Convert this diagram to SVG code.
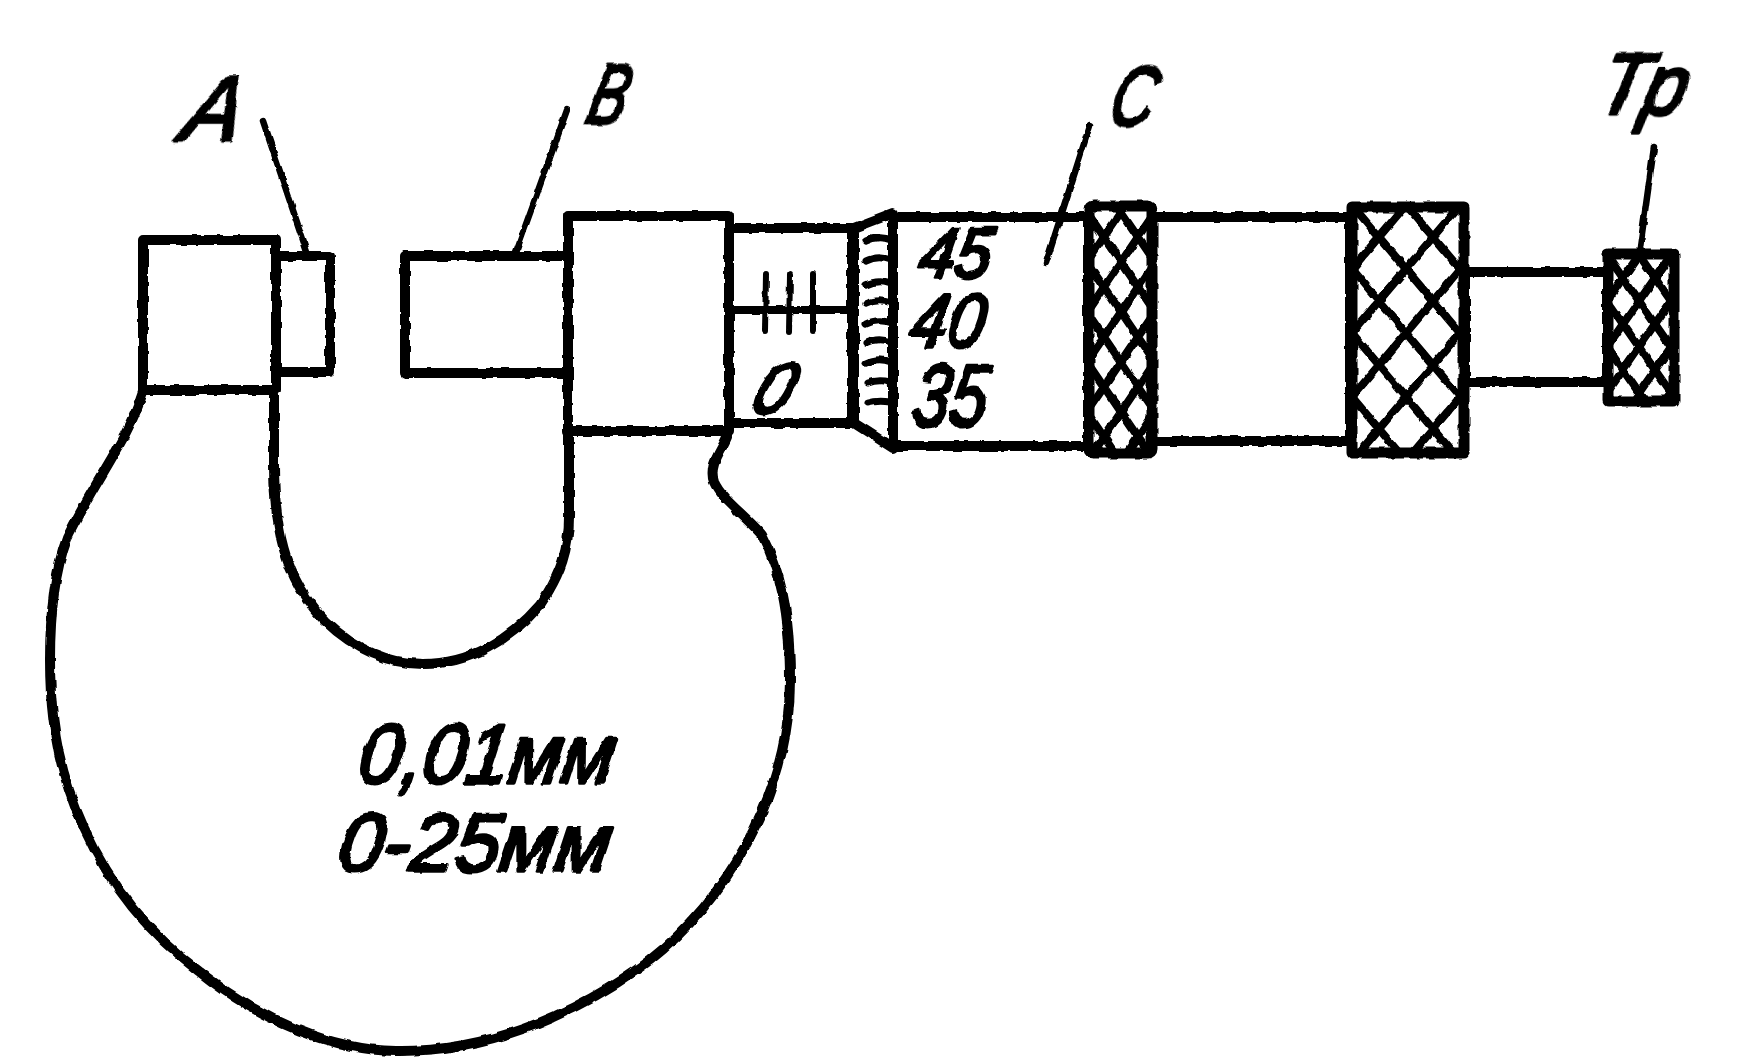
<svg xmlns="http://www.w3.org/2000/svg" width="1748" height="1058" viewBox="0 0 1748 1058">
<style>
.o{fill:none;stroke:#000;stroke-width:10;stroke-linejoin:round;stroke-linecap:round}
.w{fill:#fff;stroke:#000;stroke-width:10;stroke-linejoin:round}
.c{fill:none;stroke:#000;stroke-width:6.5;stroke-linecap:round}
.tk{fill:none;stroke:#000;stroke-width:6;stroke-linecap:round}
.t{font-family:"Liberation Sans",Arial,sans-serif;font-style:italic;fill:#000;stroke:#000;stroke-width:3.5;stroke-linejoin:round}
.k{fill:#fff}
.b{fill:none;stroke:#000;stroke-width:11;stroke-linejoin:round}
</style>
<defs>
<filter id="rough" x="0" y="0" width="100%" height="100%" filterUnits="userSpaceOnUse"><feTurbulence type="fractalNoise" baseFrequency="0.09" numOctaves="2" seed="4"/><feDisplacementMap in="SourceGraphic" scale="4" xChannelSelector="R" yChannelSelector="G"/></filter>
<pattern id="k1" patternUnits="userSpaceOnUse" x="1087" y="212" width="34" height="50"><path d="M0 0L34 50M34 0L0 50" stroke="#000" stroke-width="8" stroke-linecap="square"/></pattern>
<pattern id="k2" patternUnits="userSpaceOnUse" x="1352" y="205" width="54" height="64"><path d="M0 0L54 64M54 0L0 64" stroke="#000" stroke-width="8" stroke-linecap="square"/></pattern>
<pattern id="k3" patternUnits="userSpaceOnUse" x="1607" y="255" width="32" height="46"><path d="M0 0L32 46M32 0L0 46" stroke="#000" stroke-width="8" stroke-linecap="square"/></pattern>
</defs>
<rect width="1748" height="1058" fill="#fff"/>
<g filter="url(#rough)">
<g id="frame">
<path class="o" d="M143 392C128 440 95 480 67 538C55 570 50 610 50 660C50 730 62 780 84 828C110 885 150 935 200 972C260 1020 330 1050 396 1051C480 1052 570 1020 650 960C720 905 790 800 790 680C790 610 780 570 762 535C745 515 722 500 714 482C708 465 722 450 727 437"/>
<path class="o" d="M274 395V464C274 540 290 585 325 621C355 650 390 664 423 664C470 664 510 640 540 605C560 575 570 550 569 510V395"/>
</g>
<g id="anvil">
<rect class="w" x="143" y="240" width="133" height="150"/>
<rect class="w" x="276" y="256" width="54" height="116"/>
</g>
<g id="spindle">
<rect class="w" x="405" y="256" width="163" height="117"/>
<rect class="w" x="568" y="216" width="161" height="215"/>
</g>
<g id="barrel">
<rect class="w" x="729" y="228" width="123" height="195"/>
<path d="M729 310H850" class="o" style="stroke-width:8"/>
<path class="tk" d="M766 274L765 331M790 275L789 332M813 274L813 331"/>
<text class="t" font-size="72" textLength="38" lengthAdjust="spacingAndGlyphs" transform="translate(748 413) skewX(-20)">0</text>
</g>
<g id="thimble-scale">
<path class="w" d="M854 228L893 213V448L854 423Z"/>
<path class="tk" style="stroke-width:7" d="M866 241Q878 235 891 240M866 261Q878 255 891 260M866 285Q878 279 891 284M866 304Q878 298 891 303M866 324Q878 318 891 323M866 343Q878 337 891 342M866 363Q878 357 891 362M868 383Q878 379 890 382M868 403Q878 400 890 402"/>
</g>
<g id="thimble">
<rect class="w" x="893" y="217" width="195" height="229"/>
<text class="t" font-size="72" textLength="72" lengthAdjust="spacingAndGlyphs" transform="translate(916 278) skewX(-10)">45</text>
<text class="t" font-size="76" textLength="74" lengthAdjust="spacingAndGlyphs" transform="translate(907 347) skewX(-10)">40</text>
<text class="t" font-size="88" textLength="74" lengthAdjust="spacingAndGlyphs" transform="translate(910 426) skewX(-8)">35</text>
</g>
<g id="tube">
<rect class="w" x="1150" y="217" width="200" height="224"/>
<rect class="w" x="1465" y="272" width="142" height="110"/>
</g>
<g id="knurls">
<rect id="knurl-1" class="k" x="1089" y="206" width="63" height="247"/>
<rect fill="url(#k1)" x="1089" y="206" width="63" height="247"/>
<rect class="b" x="1089" y="206" width="63" height="247" rx="4"/>
<rect id="knurl-2" class="k" x="1352" y="207" width="112" height="246"/>
<rect fill="url(#k2)" x="1352" y="207" width="112" height="246"/>
<rect class="b" x="1352" y="207" width="112" height="246"/>
<rect id="knurl-3" class="k" x="1608" y="254" width="66" height="147"/>
<rect fill="url(#k3)" x="1608" y="254" width="66" height="147"/>
<rect class="b" x="1608" y="254" width="66" height="147"/>
</g>
<g id="connectors">
<path class="c" d="M263 121L307 252"/>
<path class="c" d="M567 110L516 252"/>
<path class="c" d="M1090 125L1046 263"/>
<path class="c" d="M1654 147L1640 248"/>
</g>
<g id="labels">
<text class="t" font-size="92" textLength="58" lengthAdjust="spacingAndGlyphs" transform="translate(178 140) skewX(-16)">А</text>
<text class="t" font-size="84" textLength="38" lengthAdjust="spacingAndGlyphs" transform="translate(584 124) skewX(-14)">В</text>
<text class="t" font-size="84" textLength="44" lengthAdjust="spacingAndGlyphs" transform="translate(1106 126) skewX(-14)">С</text>
<text class="t" font-size="86" textLength="88" lengthAdjust="spacingAndGlyphs" transform="translate(1594 114) skewX(-14)">Тр</text>
<text class="t" font-size="84" textLength="256" lengthAdjust="spacingAndGlyphs" transform="translate(356 783) skewX(-8)">0,01мм</text>
<text class="t" font-size="82" textLength="272" lengthAdjust="spacingAndGlyphs" transform="translate(336 871) skewX(-8)">0-25мм</text>
</g>
</g>
</svg>
